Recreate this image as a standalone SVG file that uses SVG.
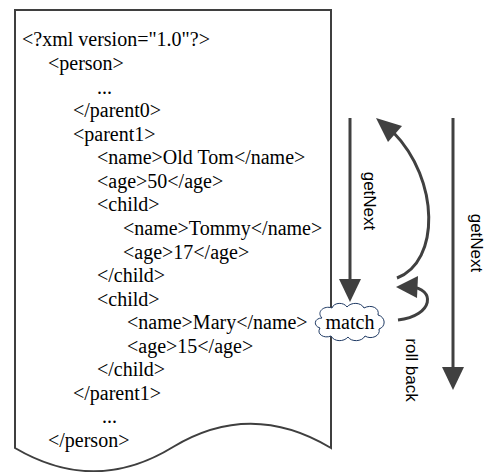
<svg xmlns="http://www.w3.org/2000/svg" width="486" height="472" viewBox="0 0 486 472">
<defs>
<style>
.doc{fill:#fff;stroke:#3f3f3f;stroke-width:2}
.x{font-family:"Liberation Serif","Times New Roman",serif;font-size:20px;fill:#000}
.lbl{font-family:"Liberation Sans",Arial,sans-serif;font-size:17px;fill:#000}
.ln{fill:none;stroke:#404040;stroke-width:3}
.cloud{fill:#fff;stroke:#1f3a64;stroke-width:1}
</style>
</defs>
<rect width="486" height="472" fill="#fff"/>
<g id="document">
<path class="doc" d="M15,10 H331 V448 Q251,400 173,447 Q95,495 15,448 Z"/>
<g class="x">
<text x="22" y="46">&lt;?xml version="1.0"?&gt;</text>
<text x="48" y="70">&lt;person&gt;</text>
<text x="97" y="94">...</text>
<text x="73" y="117">&lt;/parent0&gt;</text>
<text x="73" y="141">&lt;parent1&gt;</text>
<text x="97" y="164">&lt;name&gt;Old Tom&lt;/name&gt;</text>
<text x="97" y="188">&lt;age&gt;50&lt;/age&gt;</text>
<text x="97" y="211">&lt;child&gt;</text>
<text x="123" y="235">&lt;name&gt;Tommy&lt;/name&gt;</text>
<text x="123" y="259">&lt;age&gt;17&lt;/age&gt;</text>
<text x="97" y="282">&lt;/child&gt;</text>
<text x="97" y="306">&lt;child&gt;</text>
<text x="127" y="329">&lt;name&gt;Mary&lt;/name&gt;</text>
<text x="127" y="353">&lt;age&gt;15&lt;/age&gt;</text>
<text x="97" y="376">&lt;/child&gt;</text>
<text x="73" y="400">&lt;/parent1&gt;</text>
<text x="102" y="423">...</text>
<text x="48" y="447">&lt;/person&gt;</text>
</g>
</g>
<g id="connectors">
<path d="M350,118 V282" class="ln"/>
<path d="M350,302 L339,279 L361,279 Z" fill="#404040"/>
<path d="M453,118 V370" class="ln"/>
<path d="M453,390 L442,367 L464,367 Z" fill="#404040"/>
<path d="M397,278 C440,262 440,180 393,132" class="ln"/>
<path d="M376,118 L402,126 L388,142 Z" fill="#404040"/>
<path d="M398,320 C434,316 436,288 410,287" class="ln"/>
<path d="M396,287 L418,276 L417,298 Z" fill="#404040"/>
</g>
<g id="match">
<path class="cloud" d="M322,318 C316,312 324,305 332,308 C334,302 344,302 347,307 C351,302 361,302 364,308 C371,304 380,308 378,315 C386,317 386,327 379,329 C381,336 371,340 365,336 C362,342 351,342 348,337 C344,342 334,342 331,336 C324,339 316,334 320,328 C313,326 314,318 322,318 Z"/>
<text class="x" x="350" y="329" text-anchor="middle">match</text>
</g>
<g id="labels" class="lbl">
<text transform="translate(364,201) rotate(90)" text-anchor="middle">getNext</text>
<text transform="translate(471,243) rotate(90)" text-anchor="middle">getNext</text>
<text transform="translate(406,370) rotate(90)" text-anchor="middle">roll back</text>
</g>
</svg>
